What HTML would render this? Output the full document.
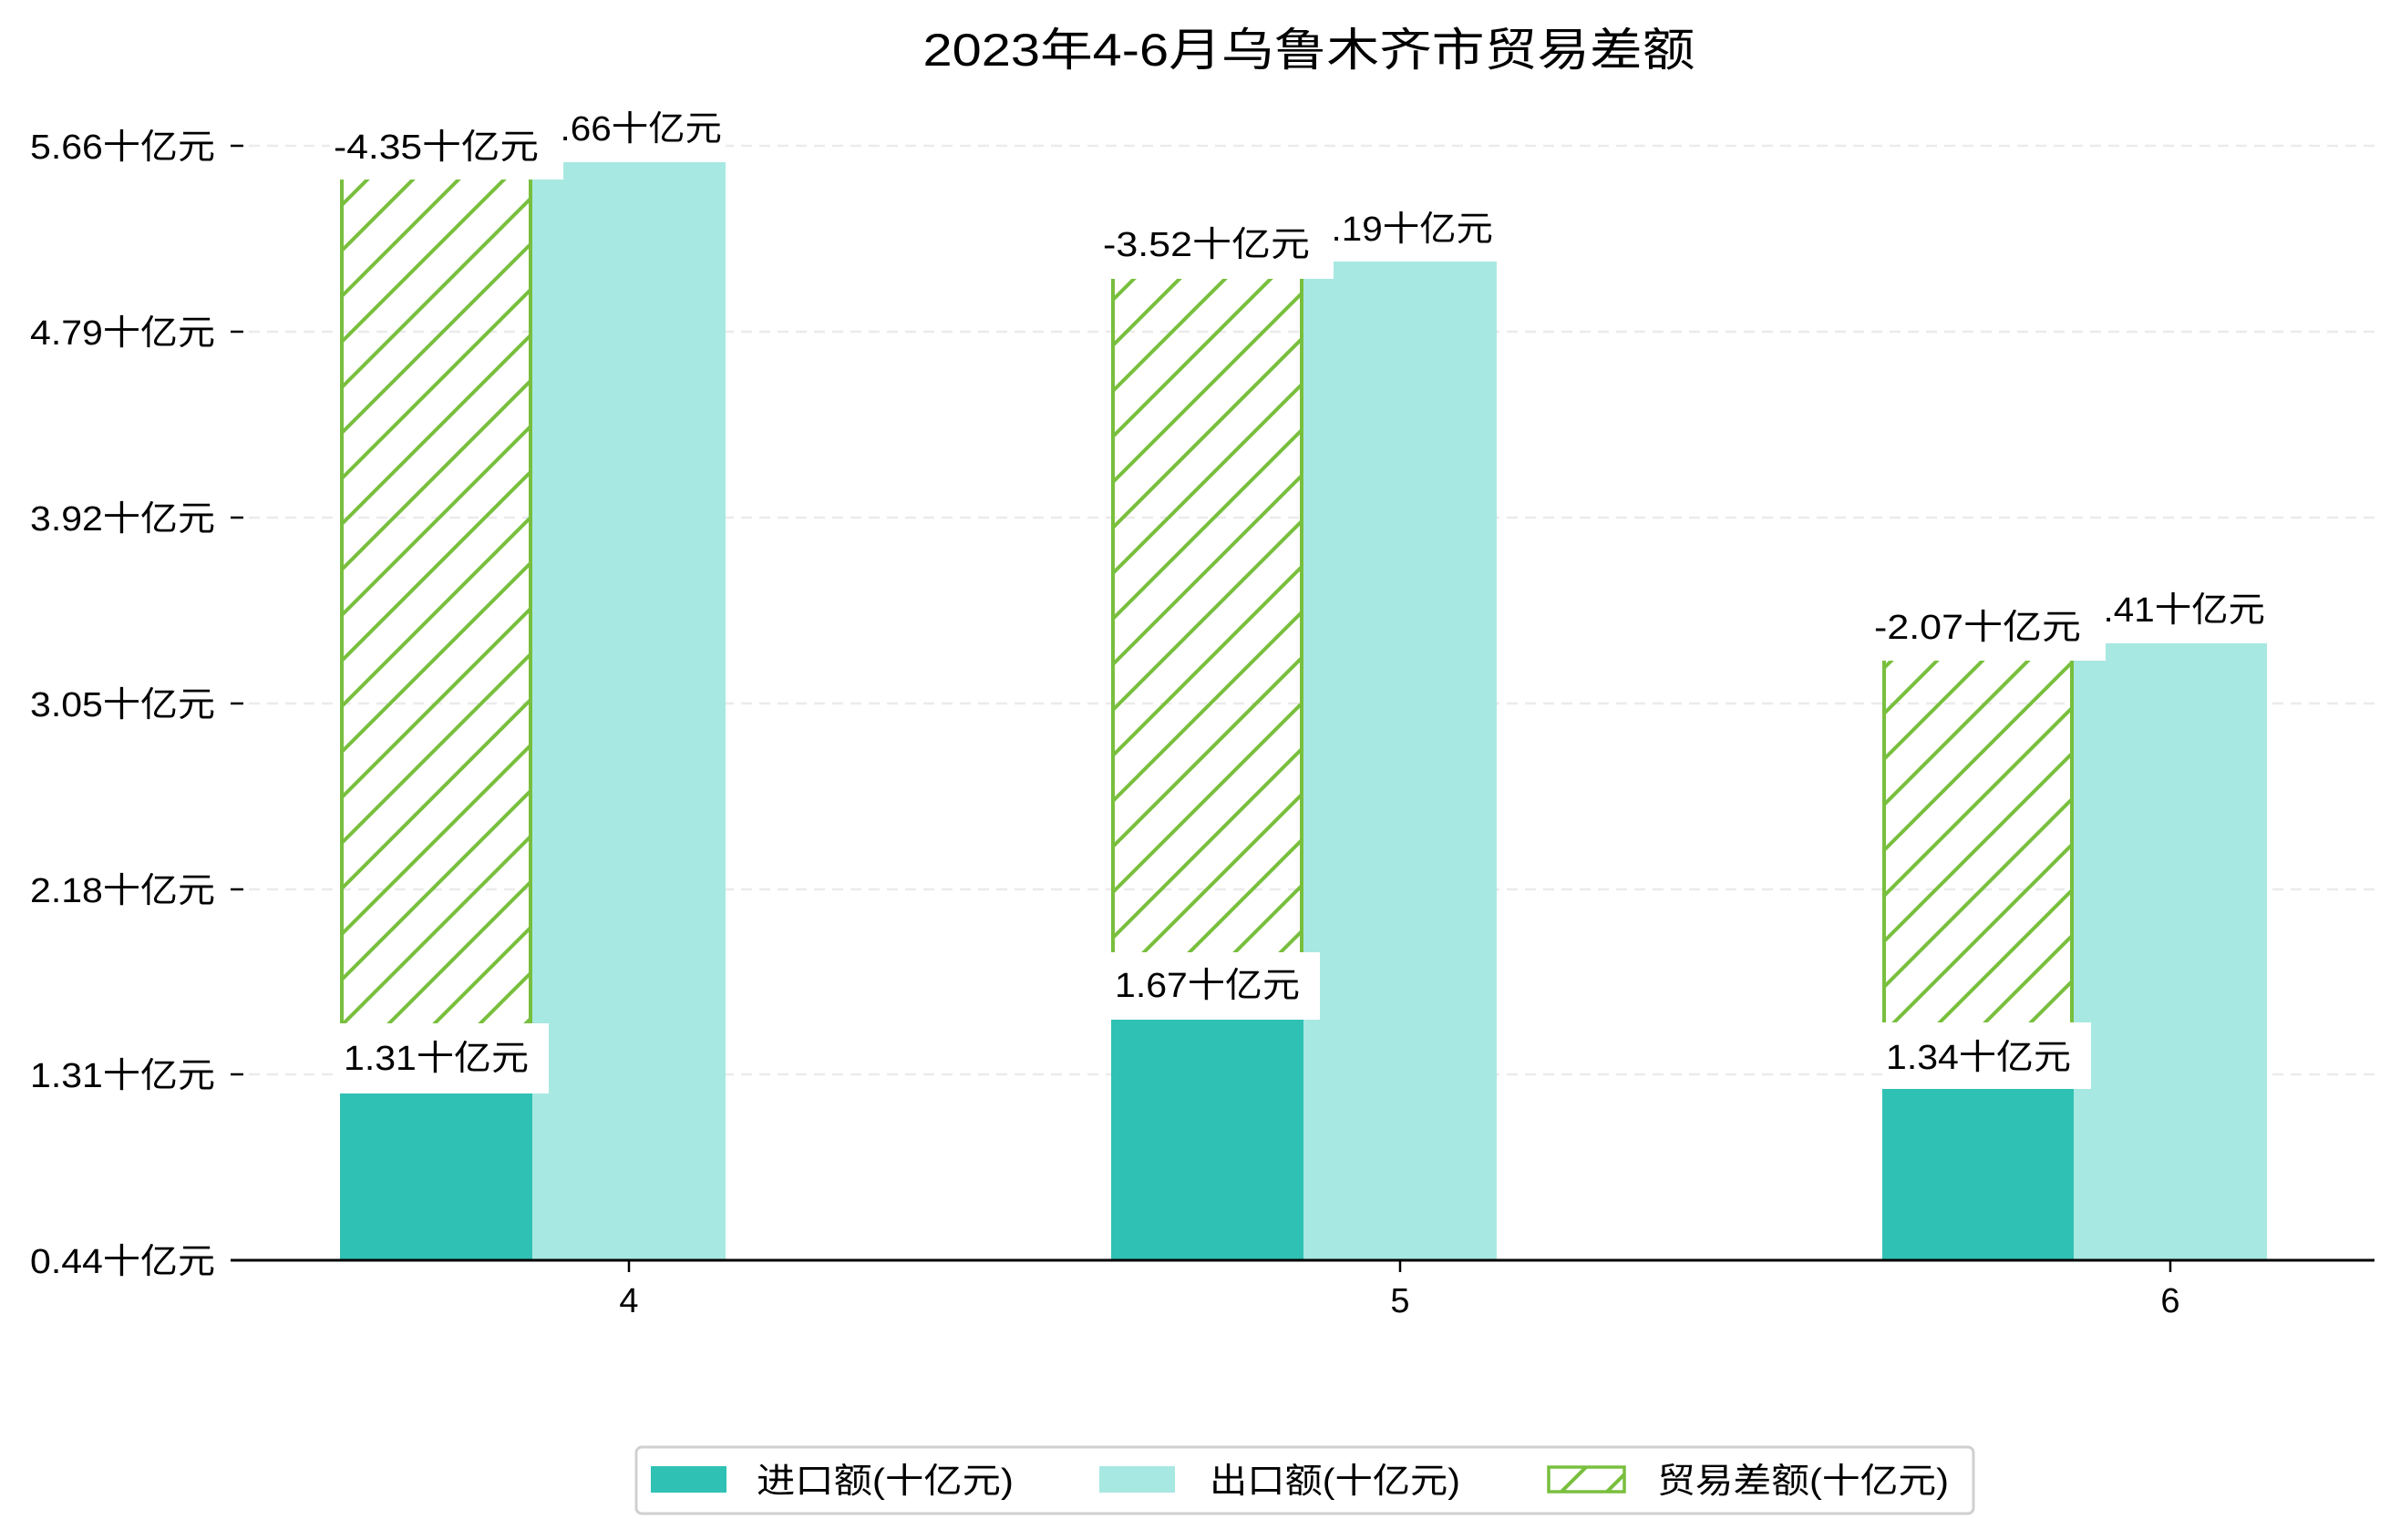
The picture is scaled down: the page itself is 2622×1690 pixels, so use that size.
<!DOCTYPE html>
<html><head><meta charset="utf-8"><style>
html,body{margin:0;padding:0;background:#fff;}
svg{display:block;}
text{font-family:"Liberation Sans","WenQuanYi Zen Hei","Noto Sans CJK SC",sans-serif;fill:#000;}
</style></head><body>
<svg width="2622" height="1690" viewBox="0 0 2622 1690" xmlns="http://www.w3.org/2000/svg">
<defs>
<pattern id="h" patternUnits="userSpaceOnUse" width="50" height="50">
<line x1="-5" y1="55" x2="55" y2="-5" stroke="#79bf3e" stroke-width="4"/>
<line x1="-30" y1="30" x2="30" y2="-30" stroke="#79bf3e" stroke-width="4"/>
<line x1="20" y1="80" x2="80" y2="20" stroke="#79bf3e" stroke-width="4"/>
</pattern>
</defs>
<rect width="2622" height="1690" fill="#fff"/>
<text x="1436" y="72" font-size="50" text-anchor="middle" textLength="847" lengthAdjust="spacingAndGlyphs">2023年4-6月乌鲁木齐市贸易差额</text>
<g stroke="#ebebeb" stroke-width="2.5" stroke-dasharray="12,8">
<line x1="253" y1="160" x2="2605" y2="160"/><line x1="253" y1="364" x2="2605" y2="364"/>
<line x1="253" y1="568" x2="2605" y2="568"/><line x1="253" y1="772" x2="2605" y2="772"/>
<line x1="253" y1="976" x2="2605" y2="976"/><line x1="253" y1="1179" x2="2605" y2="1179"/>
</g>
<g stroke="#000" stroke-width="2.5">
<line x1="253" y1="160" x2="267" y2="160"/><line x1="253" y1="364" x2="267" y2="364"/>
<line x1="253" y1="568" x2="267" y2="568"/><line x1="253" y1="772" x2="267" y2="772"/>
<line x1="253" y1="976" x2="267" y2="976"/><line x1="253" y1="1179" x2="267" y2="1179"/>
</g>
<g font-size="38" text-anchor="end">
<text x="236" y="174" textLength="203" lengthAdjust="spacingAndGlyphs">5.66十亿元</text>
<text x="236" y="378" textLength="203" lengthAdjust="spacingAndGlyphs">4.79十亿元</text>
<text x="236" y="582" textLength="203" lengthAdjust="spacingAndGlyphs">3.92十亿元</text>
<text x="236" y="786" textLength="203" lengthAdjust="spacingAndGlyphs">3.05十亿元</text>
<text x="236" y="990" textLength="203" lengthAdjust="spacingAndGlyphs">2.18十亿元</text>
<text x="236" y="1193" textLength="203" lengthAdjust="spacingAndGlyphs">1.31十亿元</text>
<text x="236" y="1397" textLength="203" lengthAdjust="spacingAndGlyphs">0.44十亿元</text>
</g>
<g stroke="#79bf3e" stroke-width="4">
<rect x="373" y="197" width="211" height="1003" fill="url(#h)" stroke="none"/>
<line x1="375" y1="197" x2="375" y2="1200"/><line x1="582" y1="197" x2="582" y2="1200"/>
<rect x="1219" y="306" width="211" height="813" fill="url(#h)" stroke="none"/>
<line x1="1221" y1="306" x2="1221" y2="1119"/><line x1="1428" y1="306" x2="1428" y2="1119"/>
<rect x="2065" y="725" width="210" height="470" fill="url(#h)" stroke="none"/>
<line x1="2067" y1="725" x2="2067" y2="1195"/><line x1="2273" y1="725" x2="2273" y2="1195"/>
</g>
<rect x="373" y="1200" width="211" height="183" fill="#2fc1b4"/>
<rect x="584" y="178" width="212" height="1205" fill="#a8e8e2"/>
<rect x="1219" y="1119" width="211" height="264" fill="#2fc1b4"/>
<rect x="1430" y="287" width="212" height="1096" fill="#a8e8e2"/>
<rect x="2065" y="1195" width="210" height="188" fill="#2fc1b4"/>
<rect x="2275" y="706" width="212" height="677" fill="#a8e8e2"/>
<line x1="253" y1="1383" x2="2605" y2="1383" stroke="#000" stroke-width="3"/>
<g stroke="#000" stroke-width="2.5">
<line x1="690" y1="1383" x2="690" y2="1396"/><line x1="1536" y1="1383" x2="1536" y2="1396"/><line x1="2381" y1="1383" x2="2381" y2="1396"/>
</g>
<g font-size="38" text-anchor="middle">
<text x="690" y="1440">4</text><text x="1536" y="1440">5</text><text x="2381" y="1440">6</text>
</g>
<g font-size="38">
<rect x="589" y="118" width="207" height="58" fill="#fff"/>
<text x="592" y="154" textLength="200" lengthAdjust="spacingAndGlyphs">5.66十亿元</text>
<rect x="362" y="126" width="256" height="71" fill="#fff"/>
<text x="366" y="174" textLength="225" lengthAdjust="spacingAndGlyphs">-4.35十亿元</text>
<rect x="373" y="1123" width="229" height="77" fill="#fff"/>
<text x="377" y="1174" textLength="203" lengthAdjust="spacingAndGlyphs">1.31十亿元</text>

<rect x="1435" y="228" width="207" height="57" fill="#fff"/>
<text x="1438" y="264" textLength="200" lengthAdjust="spacingAndGlyphs">5.19十亿元</text>
<rect x="1206" y="234" width="257" height="72" fill="#fff"/>
<text x="1210" y="281" textLength="227" lengthAdjust="spacingAndGlyphs">-3.52十亿元</text>
<rect x="1219" y="1045" width="229" height="74" fill="#fff"/>
<text x="1223" y="1094" textLength="203" lengthAdjust="spacingAndGlyphs">1.67十亿元</text>

<rect x="2280" y="648" width="207" height="56" fill="#fff"/>
<text x="2285" y="682" textLength="200" lengthAdjust="spacingAndGlyphs">3.41十亿元</text>
<rect x="2052" y="652" width="258" height="73" fill="#fff"/>
<text x="2056" y="701" textLength="227" lengthAdjust="spacingAndGlyphs">-2.07十亿元</text>
<rect x="2065" y="1122" width="229" height="73" fill="#fff"/>
<text x="2069" y="1173" textLength="203" lengthAdjust="spacingAndGlyphs">1.34十亿元</text>
</g>
<rect x="698" y="1588" width="1467" height="73" rx="6" fill="#fff" stroke="#d0d0d0" stroke-width="3"/>
<rect x="714" y="1609" width="83" height="29" fill="#2fc1b4"/>
<text x="830" y="1638" font-size="38" textLength="282" lengthAdjust="spacingAndGlyphs">进口额(十亿元)</text>
<rect x="1206" y="1609" width="83" height="29" fill="#a8e8e2"/>
<text x="1327" y="1638" font-size="38" textLength="275" lengthAdjust="spacingAndGlyphs">出口额(十亿元)</text>
<rect x="1699" y="1610" width="83" height="27" fill="url(#h)" stroke="#79bf3e" stroke-width="3.5"/>
<text x="1818" y="1638" font-size="38" textLength="320" lengthAdjust="spacingAndGlyphs">贸易差额(十亿元)</text>
</svg>
</body></html>
